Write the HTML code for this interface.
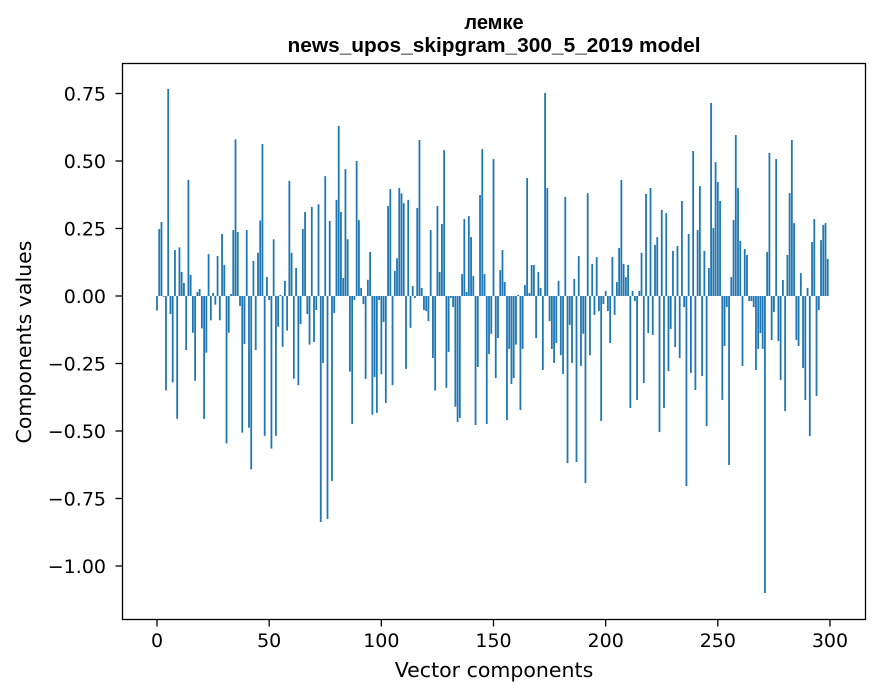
<!DOCTYPE html>
<html><head><meta charset="utf-8"><style>
body{margin:0;background:#fff;}
svg{display:block;font-family:"DejaVu Sans","Liberation Sans",sans-serif;}
</style></head><body>
<svg id="chart" width="880" height="696">
<text x="494" y="29" text-anchor="middle" font-size="20" font-weight="bold" font-family="Liberation Sans, sans-serif">лемке</text>
<text x="494" y="52" text-anchor="middle" font-size="20" font-weight="bold" font-family="Liberation Sans, sans-serif" textLength="413" lengthAdjust="spacingAndGlyphs">news_upos_skipgram_300_5_2019 model</text>
<text x="494" y="677" text-anchor="middle" font-size="20.5">Vector components</text>
<text x="0" y="0" transform="translate(31,342) rotate(-90)" text-anchor="middle" font-size="20.5">Components values</text>
<g id="bars"></g>
<g id="xticks"></g>
<g id="yticks"></g>
<rect x="122.5" y="63.5" width="743" height="556" fill="none" stroke="#000" stroke-width="1.3"/>
</svg>
<script>
const values = [
-0.054,0.248,0.274,-0.003,-0.35,0.767,-0.067,-0.32,0.17,-0.455,
0.18,0.089,0.048,-0.2,0.43,0.078,-0.136,-0.314,0.015,0.026,
-0.12,-0.455,-0.21,0.155,-0.09,0.011,-0.032,0.148,-0.09,0.23,
0.115,-0.546,-0.136,0.007,0.244,0.58,0.237,-0.037,-0.506,-0.178,
0.244,-0.488,-0.642,0.13,-0.2,0.16,0.28,0.563,-0.518,0.07,
-0.015,-0.565,0.21,-0.518,-0.114,0.004,-0.188,0.056,-0.128,0.426,
0.16,-0.306,0.104,-0.33,-0.104,0.248,0.311,-0.067,-0.18,0.33,
-0.17,-0.052,0.34,-0.837,-0.248,0.444,-0.826,0.278,-0.685,-0.063,
0.356,0.63,0.311,0.067,0.47,0.21,-0.28,-0.474,-0.015,0.5,
0.281,0.03,-0.03,-0.307,0.06,0.163,-0.44,-0.3,-0.433,-0.015,
-0.29,-0.096,-0.396,0.333,0.396,-0.33,0.093,0.14,0.4,0.38,
0.344,-0.27,0.356,-0.118,0.037,-0.007,0.326,0.578,0.03,-0.052,
-0.056,-0.093,0.244,-0.23,-0.35,0.333,0.089,0.267,0.54,-0.34,
-0.207,-0.007,-0.041,-0.41,-0.467,-0.452,0.081,0.285,0.015,0.296,
0.218,0.074,-0.478,-0.263,0.374,0.544,0.081,-0.474,-0.215,-0.14,
0.507,-0.304,-0.156,0.096,0.17,0.052,-0.46,-0.196,-0.326,-0.304,
-0.18,0.004,-0.422,-0.196,0.04,0.437,0.011,0.115,0.115,-0.156,
0.089,0.03,-0.274,0.752,0.4,-0.093,-0.196,-0.248,-0.174,0.056,
-0.219,-0.289,0.367,-0.619,-0.107,-0.248,0.063,-0.615,0.148,-0.259,
-0.14,-0.693,0.381,-0.219,0.119,-0.07,0.144,-0.056,-0.463,-0.03,
0.019,-0.056,-0.174,0.144,-0.07,0.052,0.178,0.43,0.119,0.07,
0.115,-0.415,0.019,-0.019,-0.385,0.019,0.16,-0.322,0.378,-0.137,
0.4,-0.144,0.189,0.218,-0.504,0.319,-0.415,0.307,-0.278,-0.122,
0.167,-0.189,0.185,-0.23,0.352,-0.041,-0.704,0.23,-0.285,0.537,
-0.348,0.244,0.407,-0.296,0.167,-0.481,0.104,0.715,0.252,0.496,
0.422,0.352,-0.385,-0.185,-0.041,-0.626,0.07,0.281,0.596,0.4,
0.204,-0.259,0.174,0.152,-0.019,-0.019,-0.041,-0.274,-0.196,-0.137,
-0.196,-1.1,0.163,0.53,-0.163,-0.059,0.507,-0.167,-0.311,0.059,
-0.426,0.152,0.381,0.578,0.27,-0.163,-0.185,0.085,-0.267,-0.385,
0.03,-0.519,0.2,0.285,-0.37,-0.052,0.207,0.263,0.27,0.137
];
const xTicks = [0,50,100,150,200,250,300];
const yTicks = [-1.00,-0.75,-0.50,-0.25,0.00,0.25,0.50,0.75];
const yTickLabels = ["\u22121.00","\u22120.75","\u22120.50","\u22120.25","0.00","0.25","0.50","0.75"];

const NS="http://www.w3.org/2000/svg";
const xs = v => 157 + v*2.2433;
const ys = v => 296 - v*270;
const barsG=document.getElementById('bars');
values.forEach((v,i)=>{
  const r=document.createElementNS(NS,'rect');
  const y0=ys(0), y1=ys(v);
  r.setAttribute('x', xs(i-0.4));
  r.setAttribute('width', 0.8*2.2433);
  r.setAttribute('y', Math.min(y0,y1));
  r.setAttribute('height', Math.max(Math.abs(y1-y0),0.3));
  r.setAttribute('fill','#1f77b4');
  
  
  barsG.appendChild(r);
});
const xg=document.getElementById('xticks');
xTicks.forEach(t=>{
  const l=document.createElementNS(NS,'line');
  l.setAttribute('x1',xs(t));l.setAttribute('x2',xs(t));
  l.setAttribute('y1',619.5);l.setAttribute('y2',626.5);
  l.setAttribute('stroke','#000');l.setAttribute('stroke-width','1.3');
  
  
  xg.appendChild(l);
  const tx=document.createElementNS(NS,'text');
  tx.setAttribute('x',xs(t));tx.setAttribute('y',647);
  tx.setAttribute('text-anchor','middle');tx.setAttribute('font-size','19');
  tx.textContent=t;
  
  
  xg.appendChild(tx);
});
const yg=document.getElementById('yticks');
yTicks.forEach((t,k)=>{
  const l=document.createElementNS(NS,'line');
  l.setAttribute('x1',115.5);l.setAttribute('x2',122.5);
  l.setAttribute('y1',ys(t));l.setAttribute('y2',ys(t));
  l.setAttribute('stroke','#000');l.setAttribute('stroke-width','1.3');
  
  
  yg.appendChild(l);
  const tx=document.createElementNS(NS,'text');
  tx.setAttribute('x',106);tx.setAttribute('y',ys(t)+7);
  tx.setAttribute('text-anchor','end');tx.setAttribute('font-size','19');
  tx.textContent=yTickLabels[k];
  
  
  yg.appendChild(tx);
});
</script>
</body></html>
